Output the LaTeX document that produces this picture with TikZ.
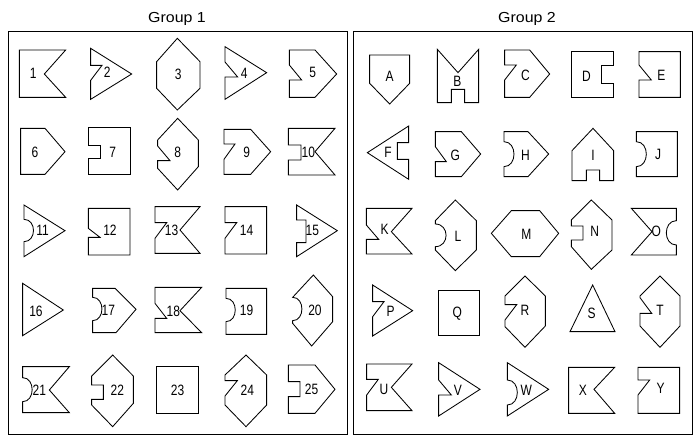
\documentclass[tikz,border=0pt]{standalone}
\usepackage{fontspec}
\setmainfont{Liberation Sans}
\newfontfamily\labfont{Liberation Sans}[FakeStretch=0.8]
\newfontfamily\titfont{Liberation Sans}[FakeStretch=1.1]
\begin{document}
\begin{tikzpicture}[x=1pt,y=-1pt,
  shp/.style={draw=black,line width=0.85pt,line join=miter},
  lbl/.style={font=\labfont\fontsize{15}{15}\selectfont,inner sep=0pt},
  ttl/.style={font=\titfont\fontsize{14.5}{14.5}\selectfont,inner sep=0pt},
  frm/.style={draw=black,line width=1pt}]
\useasboundingbox[fill=white] (0,0) rectangle (697,442);
% frames and titles
\draw[frm] (8.5,31.5) rectangle (347,434);
\draw[frm] (353.5,31) rectangle (692,434);
\node[ttl] (t1) at (177,19) {Group 1};
\node[ttl] (t2) at (527,19) {Group 2};

% ---------- Group 1, row 1
\begin{scope}[shift={(0,0)},scale=1/3]
\draw[shp] (58,150) -- (197,150) -- (133,222) -- (197,292) -- (58,292) -- cycle;
\node[lbl] (n1) at (100,220) {1};
\draw[shp] (272,145) -- (395,222) -- (272,298) -- (272,241) -- (306,196) -- (272,196) -- cycle;
\node[lbl] (n2) at (322,218) {2};
\draw[shp] (532,115) -- (600,185) -- (600,265) -- (532,330) -- (470,265) -- (470,185) -- cycle;
\node[lbl] (n3) at (535,222) {3};
\draw[shp] (675,140) -- (800,218) -- (675,298) -- (675,231) -- (713,231) -- (675,186) -- cycle;
\node[lbl] (n4) at (733,220) {4};
\draw[shp] (868,150) -- (945,150) -- (1010,222) -- (945,292) -- (868,292) -- (868,240) -- (905,240) -- (868,195) -- cycle;
\node[lbl] (n5) at (938,218) {5};
\end{scope}

% ---------- Group 1, row 2
\begin{scope}[shift={(0,110)},scale=1/3]
\draw[shp] (62,55) -- (135,55) -- (195,125) -- (135,193) -- (62,193) -- cycle;
\node[lbl] (n6) at (105,128) {6};
\draw[shp] (265,52) -- (390,52) -- (390,193) -- (265,193) -- (265,145) -- (300,145) -- (300,105) -- (265,105) -- cycle;
\node[lbl] (n7) at (338,128) {7};
\draw[shp] (533,25) -- (595,90) -- (595,170) -- (533,240) -- (473,175) -- (473,152) -- (510,152) -- (473,108) -- (473,90) -- cycle;
\node[lbl] (n8) at (533,128) {8};
\draw[shp] (672,58) -- (752,58) -- (812,125) -- (752,193) -- (672,193) -- (672,148) -- (705,102) -- (672,102) -- cycle;
\node[lbl] (n9) at (740,128) {9};
\draw[shp] (865,55) -- (1005,55) -- (945,125) -- (1005,195) -- (865,195) -- (865,150) -- (903,150) -- (903,105) -- (865,105) -- cycle;
\node[lbl] (n10) at (925,128) {10};
\end{scope}

% ---------- Group 1, rows 3 and 4
\begin{scope}[shift={(0,200)},scale=1/3]
\draw[shp] (72,15) -- (195,92) -- (72,170) -- (72,125) .. controls (110,125) and (110,58) .. (72,58) -- cycle;
\node[lbl] (n11) at (128,92) {11};
\draw[shp] (265,25) -- (390,25) -- (390,165) -- (265,165) -- (265,112) -- (300,112) -- (265,85) -- cycle;
\node[lbl] (n12) at (330,92) {12};
\draw[shp] (465,20) -- (600,20) -- (540,90) -- (600,160) -- (465,160) -- (465,115) -- (500,68) -- (465,68) -- cycle;
\node[lbl] (n13) at (515,92) {13};
\draw[shp] (675,20) -- (800,20) -- (800,162) -- (675,162) -- (675,115) -- (710,68) -- (675,68) -- cycle;
\node[lbl] (n14) at (740,92) {14};
\draw[shp] (890,15) -- (1012,92) -- (890,170) -- (890,128) -- (918,128) -- (918,60) -- (890,60) -- cycle;
\node[lbl] (n15) at (937,92) {15};
% row 4
\draw[shp] (68,250) -- (190,330) -- (68,407) -- cycle;
\node[lbl] (n16) at (108,335) {16};
\draw[shp] (278,265) -- (345,265) -- (408,328) -- (348,398) -- (278,398) -- (278,362) .. controls (315,362) and (315,292) .. (278,292) -- cycle;
\node[lbl] (n17) at (325,332) {17};
\draw[shp] (465,262) -- (605,262) -- (540,332) -- (605,398) -- (465,398) -- (465,355) -- (500,355) -- (465,310) -- cycle;
\node[lbl] (n18) at (520,335) {18};
\draw[shp] (678,265) -- (800,265) -- (800,403) -- (678,403) -- (678,365) .. controls (715,365) and (715,295) .. (678,295) -- cycle;
\node[lbl] (n19) at (740,332) {19};
\draw[shp] (940,225) -- (998,290) -- (998,365) -- (935,438) -- (878,370) -- (878,362) .. controls (915,362) and (915,292) .. (878,292) -- cycle;
\node[lbl] (n20) at (945,332) {20};
\end{scope}

% ---------- Group 1, row 5
\begin{scope}[shift={(0,290)},scale=1/3]
\draw[shp] (68,230) -- (208,230) -- (148,300) -- (208,368) -- (68,368) -- (68,335) .. controls (106,335) and (106,263) .. (68,263) -- cycle;
\node[lbl] (n21) at (118,300) {21};
\draw[shp] (338,195) -- (400,258) -- (400,340) -- (338,410) -- (275,345) -- (275,328) -- (310,328) -- (310,285) -- (275,285) -- (275,258) -- cycle;
\node[lbl] (n22) at (352,300) {22};
\draw[shp] (470,230) rectangle (595,370);
\node[lbl] (n23) at (533,300) {23};
\draw[shp] (738,195) -- (800,255) -- (800,345) -- (738,410) -- (675,345) -- (675,318) -- (712,272) -- (675,272) -- (675,255) -- cycle;
\node[lbl] (n24) at (742,300) {24};
\draw[shp] (865,225) -- (945,225) -- (1005,298) -- (945,370) -- (865,370) -- (865,320) -- (900,320) -- (900,275) -- (865,275) -- cycle;
\node[lbl] (n25) at (935,298) {25};
\end{scope}

% ---------- Group 2, row 1
\begin{scope}[shift={(348,0)},scale=1/3]
\draw[shp] (65,165) -- (185,165) -- (185,250) -- (125,312) -- (65,250) -- cycle;
\node[lbl] (nA) at (125,230) {A};
\draw[shp] (268,148) -- (330,218) -- (392,148) -- (392,308) -- (350,308) -- (350,268) -- (310,268) -- (310,308) -- (268,308) -- cycle;
\node[lbl] (nB) at (328,243) {B};
\draw[shp] (470,150) -- (545,150) -- (605,222) -- (545,292) -- (470,292) -- (470,240) -- (505,195) -- (470,195) -- cycle;
\node[lbl] (nC) at (532,225) {C};
\draw[shp] (670,155) -- (795,155) -- (795,195) -- (760,195) -- (760,250) -- (795,250) -- (795,292) -- (670,292) -- cycle;
\node[lbl] (nD) at (715,228) {D};
\draw[shp] (873,155) -- (997,155) -- (997,292) -- (873,292) -- (873,240) -- (910,240) -- (873,195) -- cycle;
\node[lbl] (nE) at (940,225) {E};
\end{scope}

% ---------- Group 2, row 2
\begin{scope}[shift={(348,110)},scale=1/3]
\draw[shp] (58,128) -- (182,48) -- (182,98) -- (148,98) -- (148,148) -- (182,148) -- (182,208) -- cycle;
\node[lbl] (nF) at (120,128) {F};
\draw[shp] (262,65) -- (340,65) -- (398,132) -- (340,200) -- (262,200) -- (262,155) -- (295,155) -- (262,110) -- cycle;
\node[lbl] (nG) at (322,135) {G};
\draw[shp] (468,65) -- (540,65) -- (602,132) -- (540,200) -- (468,200) -- (468,170) .. controls (508,170) and (508,95) .. (468,95) -- cycle;
\node[lbl] (nH) at (532,135) {H};
\draw[shp] (735,55) -- (797,122) -- (797,212) -- (755,212) -- (755,180) -- (715,180) -- (715,212) -- (672,212) -- (672,122) -- cycle;
\node[lbl] (nI) at (735,135) {I};
\draw[shp] (865,65) -- (988,65) -- (988,200) -- (865,200) -- (865,170) .. controls (905,170) and (905,95) .. (865,95) -- cycle;
\node[lbl] (nJ) at (930,132) {J};
\end{scope}

% ---------- Group 2, rows 3 and 4
\begin{scope}[shift={(348,200)},scale=1/3]
\draw[shp] (55,25) -- (192,25) -- (130,95) -- (192,162) -- (55,162) -- (55,118) -- (92,118) -- (55,75) -- cycle;
\node[lbl] (nK) at (110,88) {K};
\draw[shp] (322,0) -- (385,62) -- (385,150) -- (322,212) -- (262,150) -- (262,140) .. controls (305,140) and (305,72) .. (262,72) -- (262,62) -- cycle;
\node[lbl] (nL) at (330,110) {L};
\draw[shp] (430,100) -- (490,32) -- (575,32) -- (632,100) -- (575,170) -- (490,170) -- cycle;
\node[lbl] (nM) at (535,102) {M};
\draw[shp] (730,0) -- (792,60) -- (792,150) -- (730,208) -- (670,140) -- (670,120) -- (705,120) -- (705,78) -- (670,78) -- (670,60) -- cycle;
\node[lbl] (nN) at (740,95) {N};
\draw[shp] (850,25) -- (985,25) -- (985,62) .. controls (945,62) and (945,135) .. (985,135) -- (985,165) -- (850,165) -- (912,95) -- cycle;
\node[lbl] (nO) at (925,95) {O};
% row 4
\draw[shp] (74,255) -- (194,332) -- (74,408) -- (74,350) -- (108,305) -- (74,305) -- cycle;
\node[lbl] (nP) at (128,335) {P};
\draw[shp] (271,270) rectangle (394,405);
\node[lbl] (nQ) at (328,340) {Q};
\draw[shp] (531,228) -- (592,288) -- (592,378) -- (531,442) -- (471,380) -- (471,360) -- (506,314) -- (471,314) -- (471,288) -- cycle;
\node[lbl] (nR) at (531,332) {R};
\draw[shp] (734,255) -- (801,395) -- (666,395) -- cycle;
\node[lbl] (nS) at (731,340) {S};
\draw[shp] (936,228) -- (996,288) -- (996,378) -- (936,442) -- (876,378) -- (876,340) -- (911,340) -- (876,293) -- (876,288) -- cycle;
\node[lbl] (nT) at (936,330) {T};
\end{scope}

% ---------- Group 2, row 5
\begin{scope}[shift={(348,290)},scale=1/3]
\draw[shp] (56,222) -- (192,222) -- (130,292) -- (192,362) -- (56,362) -- (56,315) -- (91,268) -- (56,268) -- cycle;
\node[lbl] (nU) at (108,298) {U};
\draw[shp] (272,218) -- (396,298) -- (272,378) -- (272,315) -- (310,315) -- (272,270) -- cycle;
\node[lbl] (nV) at (330,300) {V};
\draw[shp] (478,218) -- (602,298) -- (478,378) -- (478,345) .. controls (518,345) and (518,270) .. (478,270) -- cycle;
\node[lbl] (nW) at (535,300) {W};
\draw[shp] (662,232) -- (800,232) -- (738,298) -- (800,370) -- (662,370) -- cycle;
\node[lbl] (nX) at (705,300) {X};
\draw[shp] (870,232) -- (995,232) -- (995,370) -- (870,370) -- (870,315) -- (905,270) -- (870,270) -- cycle;
\node[lbl] (nY) at (938,295) {Y};
\end{scope}
\end{tikzpicture}
\end{document}
